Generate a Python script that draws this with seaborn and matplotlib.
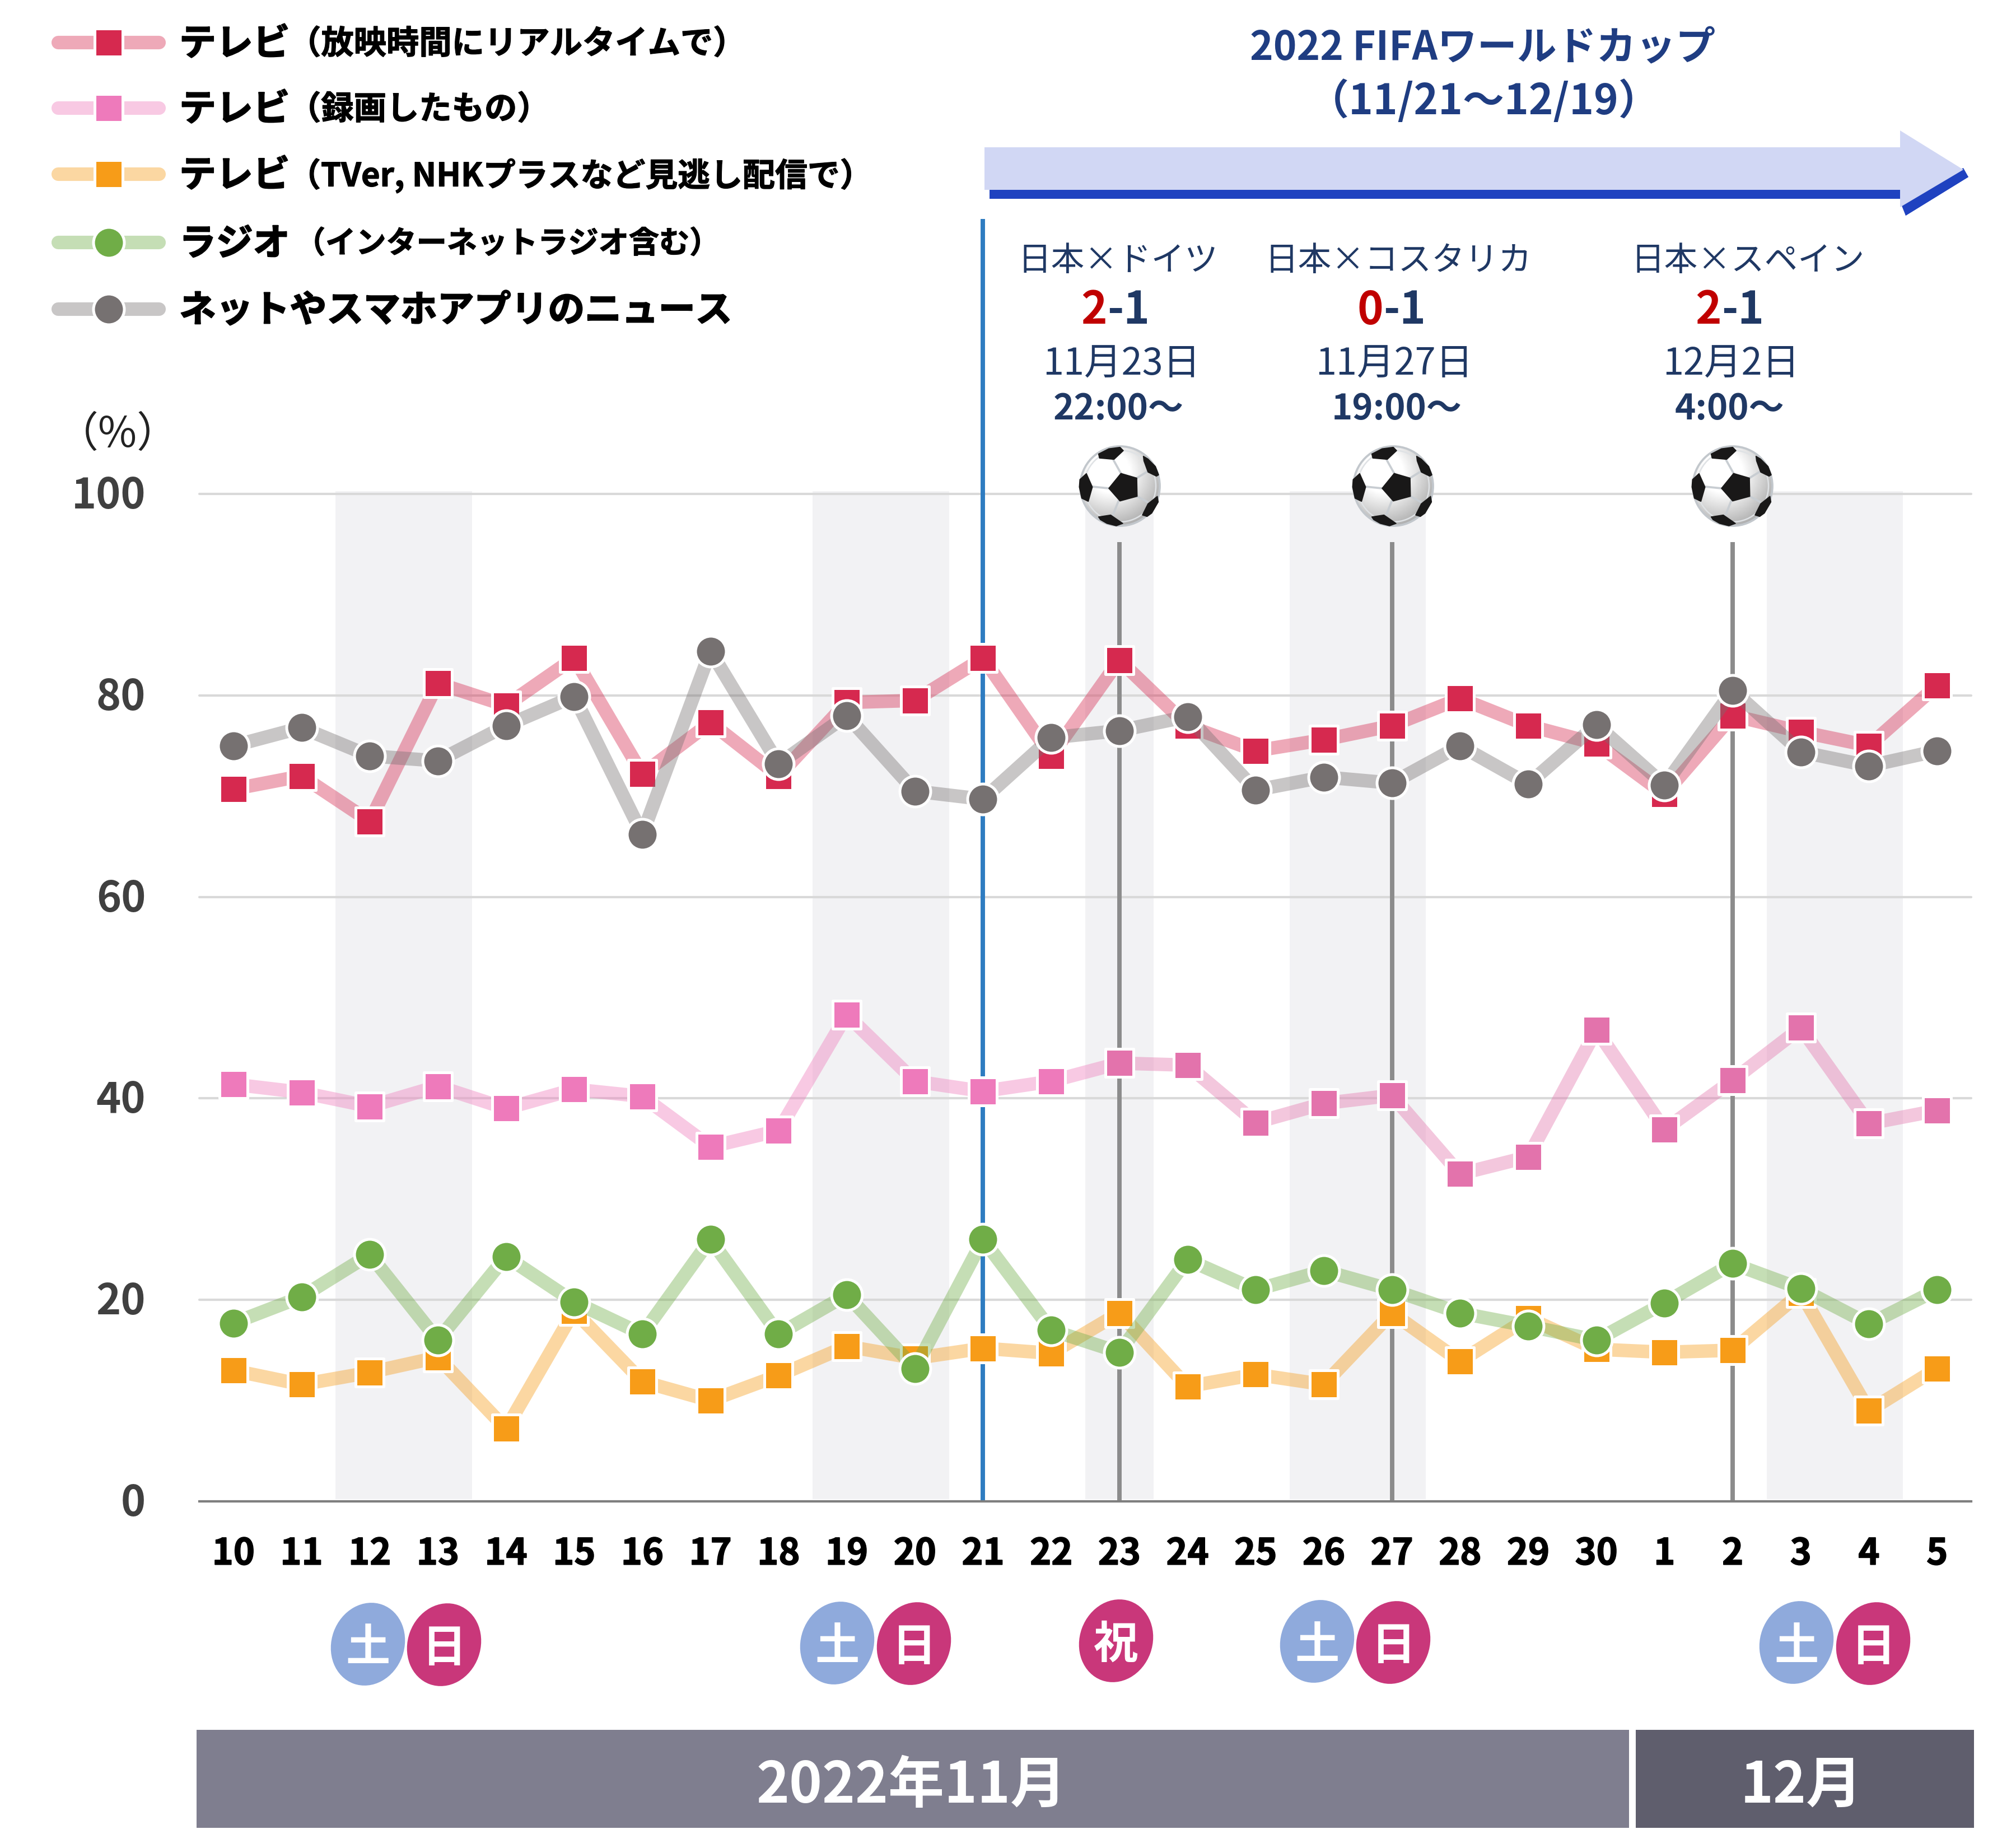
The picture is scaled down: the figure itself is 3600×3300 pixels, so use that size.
import matplotlib
matplotlib.use("Agg")
import matplotlib.patheffects as pe
import matplotlib.pyplot as plt
import numpy as np
import pandas as pd
import seaborn as sns
from matplotlib.patches import Circle, Ellipse, Polygon, Rectangle
from matplotlib.transforms import ScaledTranslation

# Data
days = ["10", "11", "12", "13", "14", "15", "16", "17", "18", "19", "20", "21", "22",
        "23", "24", "25", "26", "27", "28", "29", "30", "1", "2", "3", "4", "5"]
day_tags = ["", "", "土", "日", "", "", "", "", "", "土", "日", "", "",
            "祝", "", "", "土", "日", "", "", "", "", "", "土", "日", ""]
tv_live = [70.7, 72.0, 67.5, 81.2, 79.0, 83.7, 72.2, 77.3, 72.0, 79.3, 79.5, 83.7, 74.0,
           83.5, 77.0, 74.5, 75.6, 77.0, 79.7, 77.0, 75.2, 70.2, 78.0, 76.4, 75.0, 81.0]
tv_recorded = [41.4, 40.6, 39.2, 41.2, 39.0, 40.9, 40.2, 35.2, 36.8, 48.3, 41.7, 40.7, 41.7,
               43.5, 43.3, 37.6, 39.5, 40.3, 32.5, 34.2, 46.8, 36.9, 41.8, 47.0, 37.5, 38.8]
tv_catchup = [13.0, 11.6, 12.8, 14.3, 7.2, 18.9, 11.9, 10.0, 12.5, 15.4, 14.2, 15.2, 14.7,
              18.7, 11.4, 12.6, 11.6, 18.7, 13.9, 18.2, 15.1, 14.8, 15.0, 20.7, 9.0, 13.2]
radio = [17.7, 20.3, 24.5, 16.0, 24.3, 19.8, 16.6, 26.0, 16.6, 20.5, 13.2, 26.0, 17.0,
         14.8, 24.0, 21.0, 22.9, 21.0, 18.7, 17.4, 16.0, 19.7, 23.6, 21.1, 17.6, 21.0]
net_news = [75.0, 76.8, 74.0, 73.5, 77.0, 79.9, 66.2, 84.4, 73.2, 78.0, 70.5, 69.7, 75.8,
            76.5, 77.9, 70.6, 71.9, 71.3, 75.0, 71.2, 77.1, 71.1, 80.5, 74.4, 73.0, 74.5]
y_ticks = [0, 20, 40, 60, 80, 100]
match_days = ["23", "27", "2"]
kickoff_day = "21"

W, H = 3600, 3300
AX_L, AX_R, AX_T, AX_B = 356, 3520, 882, 2681
NAVY = "#1f3864"
TITLE_BLUE = "#1f3d82"
RED = "#c00000"
ALPHA = 0.4

sns.set_theme(style="white")
plt.rcParams["font.family"] = ["Noto Sans CJK JP", "DejaVu Sans"]

fig = plt.figure(figsize=(12, 11), dpi=300)
ax = fig.add_axes([AX_L / W, 1 - AX_B / H, (AX_R - AX_L) / W, (AX_B - AX_T) / H])
x_pos = np.arange(len(days))

# (name, values, marker, colour, first index, last index) - the pink series turns
# a little darker from the 23rd on in the original
series = [
    ("tv_live", tv_live, "s", "#d6294f", 0, 26),
    ("tv_recorded", tv_recorded, "s", "#ee7abb", 0, 14),
    ("tv_recorded2", tv_recorded, "s", "#e373ac", 13, 26),
    ("tv_catchup", tv_catchup, "s", "#f79c18", 0, 26),
    ("radio", radio, "o", "#70ad47", 0, 26),
    ("net_news", net_news, "o", "#767171", 0, 26),
]

# Sat / Sun / holiday bands
start = None
for i, tag in enumerate(day_tags + [""]):
    if tag and start is None:
        start = i
    if not tag and start is not None:
        ax.axvspan(start - 0.5, i - 0.5, ymin=0.002, ymax=1.003, color="#f2f2f4", lw=0,
                   zorder=0, clip_on=False)
        start = None

z = 3
for name, values, marker, color, i0, i1 in series:
    df = pd.DataFrame({"x": x_pos[i0:i1], "value": values[i0:i1]})
    sns.lineplot(data=df, x="x", y="value", color=color, alpha=ALPHA, linewidth=5.8,
                 errorbar=None, ax=ax, zorder=z, solid_capstyle="butt")
    size = 139 if marker == "s" else 174
    sns.scatterplot(data=df, x="x", y="value", color=color, marker=marker, s=size,
                    edgecolor="white", linewidth=1.2, ax=ax, zorder=z + 0.5, clip_on=False)
    z += 1

ax.plot([days.index(kickoff_day)] * 2, [0, 127.3], color="#2e7cc1", lw=1.9, zorder=2,
        clip_on=False, solid_capstyle="butt")
for d in match_days:
    ax.plot([len(days) - 1 - days[::-1].index(d)] * 2, [0, 95.2], color="#8c8c8c", lw=1.9,
            zorder=2, solid_capstyle="butt")

ax.set_xlim(-0.5, len(days) - 0.5)
ax.set_ylim(0, 100)
ax.set_xlabel("")
ax.set_ylabel("")
ax.set_xticks(x_pos, days)
ax.set_yticks(y_ticks, [str(v) for v in y_ticks])
ax.tick_params(axis="x", length=0, pad=14.7, labelsize=15.5, labelcolor="black")
ax.tick_params(axis="y", length=0, pad=23, labelsize=18, labelcolor="#404040")
nudge_up = ScaledTranslation(0, 4 / 300, fig.dpi_scale_trans)
for lab in ax.get_yticklabels():
    lab.set_fontweight("bold")
    lab.set_transform(lab.get_transform() + nudge_up)
for lab in ax.get_xticklabels():
    lab.set_fontweight("bold")
    lab.set_path_effects([pe.withStroke(linewidth=0.4, foreground="black")])
ax.grid(axis="y", color="#d9d9d9", lw=1.0)
ax.set_axisbelow(True)
for gl in ax.get_ygridlines():
    gl.set_clip_on(False)
sns.despine(ax=ax, left=True)
ax.spines["bottom"].set_color("#7f7f7f")
ax.spines["bottom"].set_linewidth(1.0)
ax.patch.set_alpha(0)

# Everything around the plot sits on an overlay in image pixels
ov = fig.add_axes([0, 0, 1, 1], zorder=10)
ov.set_xlim(0, W)
ov.set_ylim(H, 0)
ov.axis("off")


def label(x, y, s, size, color="black", weight="normal", ha="center", stroke=0.0):
    t = ov.text(x, y, s, fontsize=size, color=color, fontweight=weight, ha=ha, va="center")
    if stroke:
        t.set_path_effects([pe.withStroke(linewidth=stroke, foreground=color)])
    return t


# Legend
legend_rows = [
    (76, "テレビ", "（放映時間にリアルタイムで）", "#d6294f", "s", 14.0, 515),
    (193, "テレビ", "（録画したもの）", "#ee7abb", "s", 14.0, 515),
    (311, "テレビ", "（TVer, NHKプラスなど見逃し配信で）", "#f79c18", "s", 13.9, 515),
    (433, "ラジオ", "（インターネットラジオ含む）", "#70ad47", "o", 13.0, 527),
    (552, "ネットやスマホアプリのニュース", "", "#767171", "o", 0, 0),
]
for y, main, detail, color, marker, dsize, dx in legend_rows:
    ov.plot([104, 284], [y, y], color=color, alpha=ALPHA, lw=5.8, solid_capstyle="round")
    ov.scatter([194], [y], marker=marker, s=139 if marker == "s" else 174, color=color,
               edgecolor="white", linewidth=1.2, zorder=5)
    label(320, y + 3, main, 15.8, weight="bold", ha="left", stroke=0.5)
    if detail:
        label(dx, y + 3, detail, dsize, weight="bold", ha="left", stroke=0.3)

label(210, 776, "（%）", 18, color="#222222")

# Tournament header and arrow
label(2648, 85, "2022 FIFAワールドカップ", 17, color=TITLE_BLUE, weight="bold")
label(2650, 181, "（11/21～12/19）", 17.8, color=TITLE_BLUE, weight="bold")
ov.add_patch(Polygon([(1767, 339), (3393, 339), (3403, 385), (3515, 316), (3506, 300),
                      (3393, 355), (1767, 355)], closed=True, color="#1f42c0", lw=0))
ov.add_patch(Polygon([(3403, 385), (3515, 316), (3500, 300), (3393, 360)], closed=True,
                     color="#1f42c0", lw=0))
ov.add_patch(Polygon([(1758, 263), (3393, 263), (3393, 233), (3506, 303), (3393, 370),
                      (3393, 339), (1758, 339)], closed=True, color="#d1d7f4", lw=0))

# Match blocks
matches = [
    ("日本×ドイツ", 1996, "2", "-1", 1977, "11月23日", 2003, "22:00～", 1997),
    ("日本×コスタリカ", 2497, "0", "-1", 2470, "11月27日", 2490, "19:00～", 2494),
    ("日本×スペイン", 3121, "2", "-1", 3074, "12月2日", 3091, "4:00～", 3088),
]
for name, nx, s1, s2, sx, date, dx, time, tx in matches:
    label(nx, 466, name, 14.3, color=NAVY)
    label(sx, 555, s1, 19, color=RED, weight="bold", ha="right")
    label(sx, 555, s2, 19, color=NAVY, weight="bold", ha="left")
    label(dx, 651, date, 16, color=NAVY)
    label(tx, 730, time, 15.2, color=NAVY, weight="bold")


def draw_ball(cx, cy):
    r = 72
    clip = Circle((cx, cy), r, transform=ov.transData)
    yy, xx = np.mgrid[-1:1:80j, -1:1:80j]
    shade = np.clip(np.hypot(xx + 0.25, yy + 0.35) - 0.5, 0, 1) * 0.35
    im = ov.imshow(1 - shade, extent=(cx - r, cx + r, cy + r, cy - r), cmap="gray",
                   vmin=0, vmax=1, zorder=6, interpolation="bilinear", aspect="auto")
    im.set_clip_path(clip)
    ov.set_xlim(0, W)
    ov.set_ylim(H, 0)
    ov.add_patch(Circle((cx, cy), r - 1, fill=False, ec="#c2c7cc", lw=0.9, zorder=7))
    ov.add_patch(Circle((cx, cy), r - 8, fill=False, ec="#dfe2e5", lw=0.6, zorder=7))
    # shapes in crop pixels (3x) around the ball centre
    seams = [((305, 197), (262, 120)), ((390, 222), (450, 185)), ((392, 320), (447, 350)),
             ((292, 345), (262, 420)), ((240, 277), (152, 268))]
    panels = [
        [(305, 197), (390, 222), (392, 320), (300, 345), (240, 277)],
        [(185, 93), (240, 65), (300, 57), (318, 75), (268, 122), (190, 115)],
        [(425, 105), (450, 120), (490, 160), (507, 205), (495, 212), (450, 190), (428, 130)],
        [(120, 198), (85, 230), (82, 270), (95, 330), (130, 347), (152, 270)],
        [(185, 430), (250, 420), (315, 465), (280, 478), (230, 465), (195, 445)],
        [(500, 320), (505, 350), (470, 410), (445, 428), (420, 420), (450, 360)],
    ]
    to_px = lambda p: (cx + (p[0] - 300) / 3, cy + (p[1] - 265) / 3)
    for a, b in seams:
        pa, pb = to_px(a), to_px(b)
        ov.plot([pa[0], pb[0]], [pa[1], pb[1]], color="#c8cdd2", lw=0.9, zorder=8)
    for pts in panels:
        ov.add_patch(Polygon([to_px(p) for p in pts], closed=True, fc="#191818", ec="#191818",
                     lw=0.4, joinstyle="round", zorder=9))


for bx in (2000, 2488, 3094):
    draw_ball(bx, 868)

# Day-type badges under the axis
badges = [("土", 657, 2936), ("日", 793, 2937), ("土", 1495, 2934), ("日", 1632, 2935),
          ("祝", 1993, 2930), ("土", 2352, 2931), ("日", 2488, 2933), ("土", 3208, 2933),
          ("日", 3345, 2935)]
for tag, bx, by in badges:
    color = "#8faadc" if tag == "土" else "#c9377a"
    ov.add_patch(Ellipse((bx, by), 130, 150, angle=20, fc=color, lw=0))
    label(bx, by + 7, tag, 19, color="white", weight="bold")

# Month bars
ov.add_patch(Rectangle((351, 3089), 2909 - 351, 175, fc="#7f7e8f", lw=0))
ov.add_patch(Rectangle((2921, 3089), 3525 - 2921, 175, fc="#5f5e6d", lw=0))
label(1628, 3189, "2022年11月", 24, color="white", weight="bold")
label(3217, 3189, "12月", 24, color="white", weight="bold")

fig.savefig("out.png", dpi=300, facecolor="white")
